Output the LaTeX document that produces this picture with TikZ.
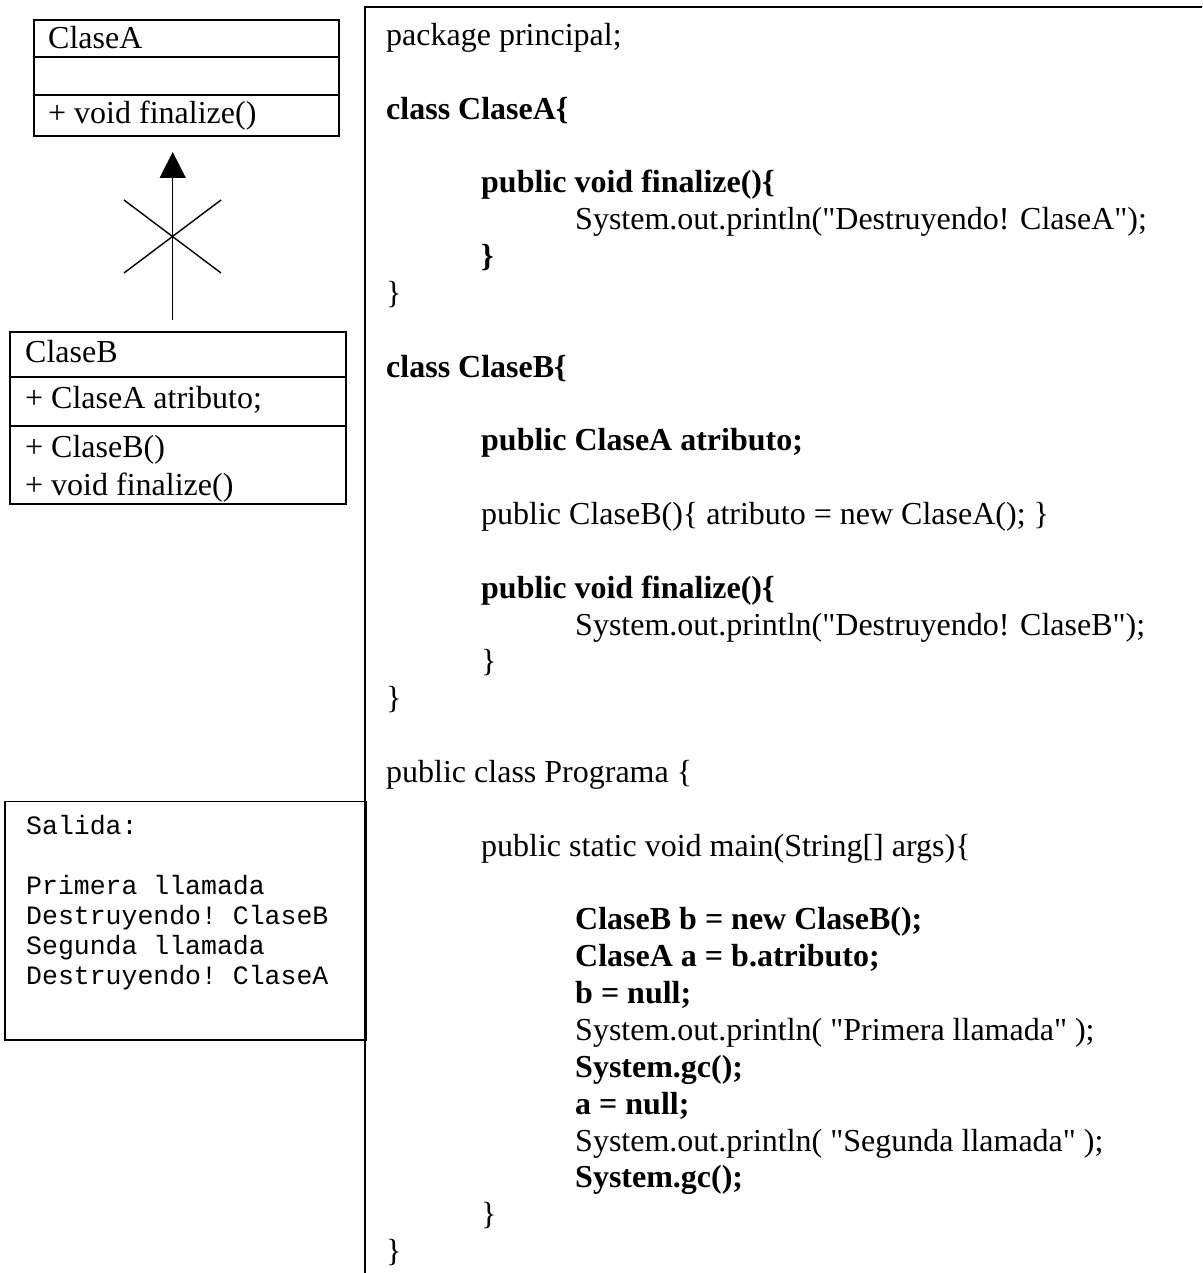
\documentclass[tikz,border=0pt]{standalone}
\usepackage{fontspec}
\setmainfont{Liberation Serif}[Ligatures=TeXOff]
\setmonofont{Liberation Mono}
\usetikzlibrary{arrows.meta}

\begin{document}
\begin{tikzpicture}[x=1pt,y=-1pt,
  frame/.style={draw, line width=1.7pt, inner sep=0pt, anchor=north west},
  rule/.style={line width=1.7pt},
  umltext/.style={anchor=base west, inner sep=0pt, font=\fontsize{32}{36.8}\selectfont},
  code/.style={anchor=base west, inner sep=0pt, font=\fontsize{32}{36.8}\selectfont},
  codebf/.style={anchor=base west, inner sep=0pt, font=\fontsize{32}{36.8}\selectfont\bfseries},
  outtext/.style={anchor=base west, inner sep=0pt, font=\fontsize{26.5}{30}\ttfamily},
]
\useasboundingbox (0,0) rectangle (1202,1273);
\clip (0,0) rectangle (1202,1273);

% ---------- UML class ClaseA ----------
\node[frame, minimum width=305pt, minimum height=116pt] (clsA) at (33,19) {};
\draw[rule] (33,57) -- (338,57);
\draw[rule] (33,95) -- (338,95);
\node[umltext] (clsAname) at (48,49) {ClaseA};
\node[umltext] (clsAop) at (48,124) {+ void finalize()};

% ---------- UML class ClaseB ----------
\node[frame, minimum width=336pt, minimum height=172pt] (clsB) at (9,331) {};
\draw[rule] (9,377) -- (345,377);
\draw[rule] (9,426) -- (345,426);
\node[umltext] (clsBname) at (25,362) {ClaseB};
\node[umltext] (clsBattr) at (25,408) {+ ClaseA atributo;};
\node[umltext] (clsBop1) at (25,457) {+ ClaseB()};
\node[umltext] (clsBop2) at (25,495) {+ void finalize()};

% ---------- crossed-out association ----------
\coordinate (assocfoot) at (172.7,320);
\coordinate (assoctip) at (172.7,152);
\draw[line width=1.5pt, -{Triangle[length=26pt,width=26pt]}] (assocfoot) -- (assoctip);
\coordinate (xnw) at (124,200);
\coordinate (xse) at (221,273);
\coordinate (xne) at (221,200);
\coordinate (xsw) at (124,273);
\draw[line width=1.4pt] (xnw) -- (xse);
\draw[line width=1.4pt] (xne) -- (xsw);

% ---------- program output ----------
\node[frame, minimum width=361pt, minimum height=238.5pt] (salida) at (4,800.5) {};
\node[outtext] (o1) at (26,834) {Salida:};
\node[outtext] (o2) at (26,894) {Primera llamada};
\node[outtext] (o3) at (26,924) {Destruyendo! ClaseB};
\node[outtext] (o4) at (26,954) {Segunda llamada};
\node[outtext] (o5) at (26,984) {Destruyendo! ClaseA};

% ---------- source listing ----------
\draw[line width=1.8pt] (365,1290) -- (365,7) -- (1215,7);

\node[code]   (l0)  at (386,45.5)    {package principal;};
\node[codebf] (l2)  at (386,119.2)   {class ClaseA\{};
\node[codebf] (l4)  at (481,192.9)   {public void finalize()\{};
\node[code]   (l5)  at (575,229.75)  {System.out.println("Destruyendo! ClaseA");};
\node[codebf] (l6)  at (481,266.6)   {\}};
\node[code]   (l7)  at (386,303.45)  {\}};
\node[codebf] (l9)  at (386,377.15)  {class ClaseB\{};
\node[codebf] (l11) at (481,450.85)  {public ClaseA atributo;};
\node[code]   (l13) at (481,524.55)  {public ClaseB()\{ atributo = new ClaseA(); \}};
\node[codebf] (l15) at (481,598.25)  {public void finalize()\{};
\node[code]   (l16) at (575,635.1)   {System.out.println("Destruyendo! ClaseB");};
\node[code]   (l17) at (481,671.95)  {\}};
\node[code]   (l18) at (386,708.8)   {\}};
\node[code]   (l20) at (386,782.5)   {public class Programa \{};
\node[code]   (l22) at (481,856.2)   {public static void main(String[] args)\{};
\node[codebf] (l24) at (575,929.9)   {ClaseB b = new ClaseB();};
\node[codebf] (l25) at (575,966.75)  {ClaseA a = b.atributo;};
\node[codebf] (l26) at (575,1003.6)  {b = null;};
\node[code]   (l27) at (575,1040.45) {System.out.println( "Primera llamada" );};
\node[codebf] (l28) at (575,1077.3)  {System.gc();};
\node[codebf] (l29) at (575,1114.15) {a = null;};
\node[code]   (l30) at (575,1151)    {System.out.println( "Segunda llamada" );};
\node[codebf] (l31) at (575,1187.85) {System.gc();};
\node[code]   (l32) at (481,1224.7)  {\}};
\node[code]   (l33) at (386,1261.55) {\}};
\end{tikzpicture}
\end{document}
